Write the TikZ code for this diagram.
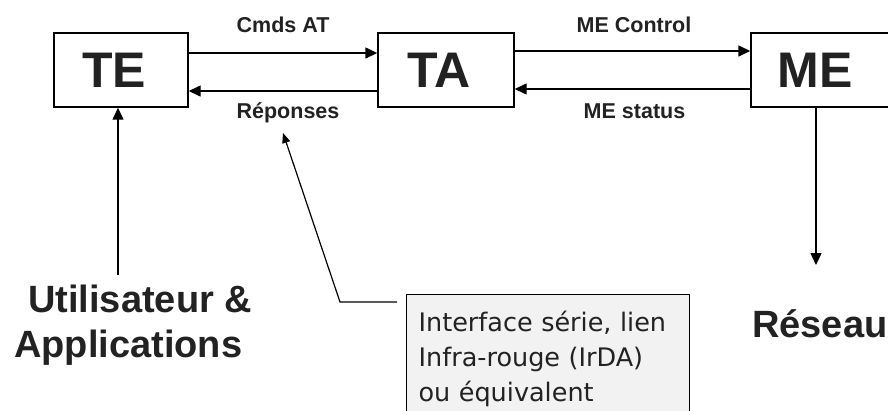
\documentclass[tikz,border=0pt]{standalone}
\usepackage{fontspec}
\setmainfont{Liberation Sans}
\newfontfamily\callfont{DejaVu Sans}
\usetikzlibrary{arrows.meta,calc}
\definecolor{ink}{HTML}{222222}
\begin{document}
\begin{tikzpicture}[x=1pt,y=-1pt,
  big/.style={font=\fontsize{50}{50}\selectfont\bfseries, text=ink},
  box/.style={draw, line width=1.4pt, minimum width=134pt, minimum height=74pt, inner sep=0pt},
  arr/.style={line width=1.4pt, -{Triangle[length=12pt,width=11pt]}},
  lab/.style={font=\fontsize{21.5}{26}\selectfont\bfseries, text=ink, inner sep=0pt, anchor=base},
  side/.style={font=\fontsize{38}{45}\selectfont\bfseries, text=ink, inner sep=0pt, align=left},
  callbox/.style={draw, line width=1.2pt, fill=black!5, anchor=north west, inner xsep=12pt, inner ysep=15pt,
     text width=259pt, align=left, text height=22pt, text depth=120pt, text=ink,
     font=\callfont\fontsize{25.5}{35}\selectfont},
  callarr/.style={line width=1.2pt, -{Triangle[length=10pt,width=8pt]}}
]
\clip (0,0) rectangle (888,410);
\node[box, label={[big, xshift=-7pt]center:TE}] (te) at (121,70) {};
\node[box, minimum width=136pt, label={[big, xshift=-7pt]center:TA}] (ta) at (446,70) {};
\node[box, minimum width=160pt, label={[big, xshift=-16pt]center:ME}] (me) at (831,70) {};

\draw[arr] ([yshift=17pt]te.east) -- node[lab, yshift=21pt]{Cmds AT} ([yshift=17pt]ta.west);
\draw[arr] ([yshift=-21pt]ta.west) -- node[lab, yshift=-27pt, xshift=5pt]{Réponses} ([yshift=-21pt]te.east);
\draw[arr] ([yshift=19pt]ta.east) -- node[lab, yshift=19pt, xshift=1.5pt]{ME Control} ([yshift=19pt]me.west);
\draw[arr] ([yshift=-19pt]me.west) -- node[lab, yshift=-29pt, xshift=2pt]{ME status} ([yshift=-19pt]ta.east);

\node[side, anchor=base west] (user) at (14,357) {\hspace*{14pt}Utilisateur \&\\Applications};
\coordinate (ustart) at (118,275);
\draw[arr] (ustart) -- (ustart |- te.south);

\node[side, anchor=base west] (net) at (752,337) {Réseau};
\coordinate (nend) at (816,265);
\draw[arr] (nend |- me.south) -- (nend);

\node[callbox] (call) at (406,294) {Interface série, lien\\Infra-rouge (IrDA)\\ou équivalent};
\coordinate (cstart) at ($(call.north west)+(-9,8)$);
\coordinate (cbend) at (340,302);
\coordinate (ctip) at (283,133);
\draw[callarr] (cstart) -- (cbend) -- (ctip);
\end{tikzpicture}
\end{document}
